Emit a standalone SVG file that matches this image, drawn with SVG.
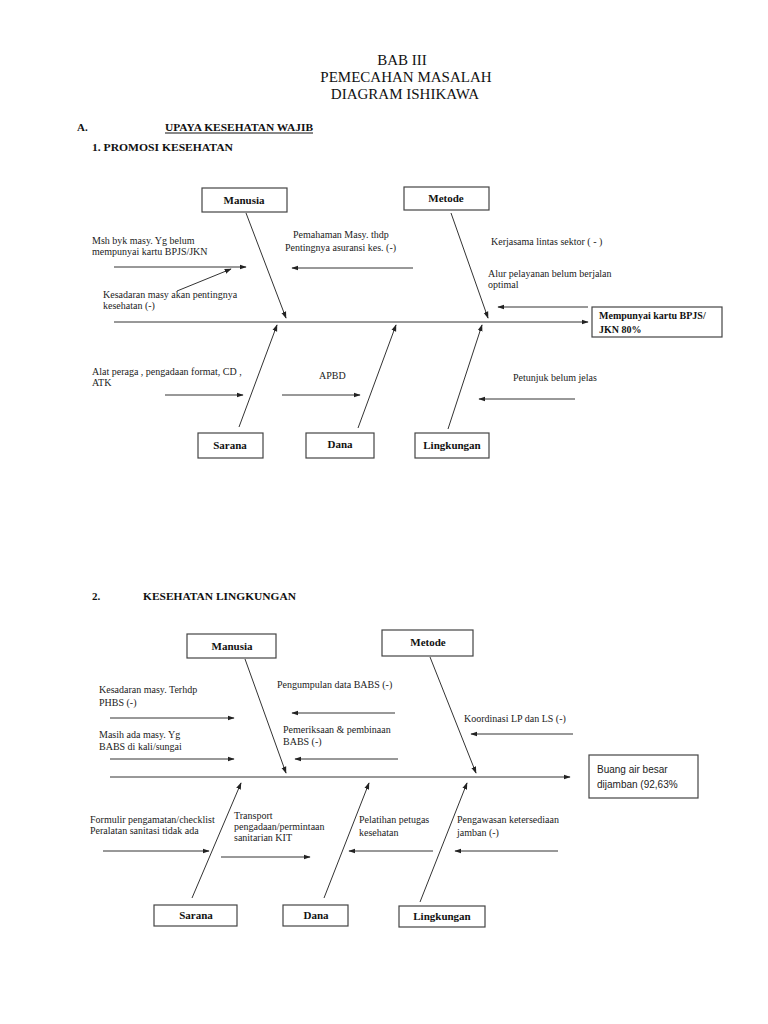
<svg xmlns="http://www.w3.org/2000/svg" width="768" height="1024" viewBox="0 0 768 1024">
<style>
.t{font-family:"Liberation Serif",serif;font-size:10px;fill:#222}
.h{font-family:"Liberation Serif",serif;font-size:15px;fill:#111;text-anchor:middle}
.s{font-family:"Liberation Serif",serif;font-size:11px;font-weight:bold;fill:#111}
.lb{font-family:"Liberation Serif",serif;font-size:11px;font-weight:bold;fill:#111;text-anchor:middle}
.eb{font-family:"Liberation Serif",serif;font-size:10px;font-weight:bold;fill:#111}
.es{font-family:"Liberation Sans",sans-serif;font-size:10px;fill:#222}
.box{fill:#fff;stroke:#444;stroke-width:1.2}
.ln{stroke:#333;stroke-width:1;fill:none}
.ar{stroke:#333;stroke-width:1;fill:none;marker-end:url(#ah)}
</style>
<defs>
<marker id="ah" viewBox="0 0 10 10" refX="9" refY="5" markerWidth="7" markerHeight="7" orient="auto" markerUnits="userSpaceOnUse">
<path d="M0,1.5 L10,5 L0,8.5 z" fill="#222"/>
</marker>
</defs>
<rect width="768" height="1024" fill="#fff"/>

<g id="title">
<text class="h" x="402" y="65">BAB III</text>
<text class="h" x="406" y="82">PEMECAHAN MASALAH</text>
<text class="h" x="405" y="99">DIAGRAM ISHIKAWA</text>
<text class="s" x="77" y="131">A.</text>
<text class="s" x="165" y="131" textLength="148" lengthAdjust="spacingAndGlyphs">UPAYA KESEHATAN WAJIB</text>
<line x1="165" y1="133" x2="313" y2="133" stroke="#111" stroke-width="1"/>
<text class="s" x="92" y="151" textLength="141" lengthAdjust="spacingAndGlyphs">1.  PROMOSI KESEHATAN</text>
<text class="s" x="92" y="600">2.</text>
<text class="s" x="143" y="600" textLength="153" lengthAdjust="spacingAndGlyphs">KESEHATAN LINGKUNGAN</text>
</g>

<!-- Diagram 1 -->
<g id="connectors1">
<line class="ar" x1="114" y1="322" x2="588" y2="322"/>
<line class="ar" x1="246" y1="213" x2="286" y2="318"/>
<line class="ar" x1="451" y1="213" x2="488" y2="318"/>
<line class="ar" x1="239" y1="427" x2="277" y2="325"/>
<line class="ar" x1="358" y1="428" x2="396" y2="325"/>
<line class="ar" x1="448" y1="429" x2="482" y2="325"/>
<line class="ar" x1="114" y1="267" x2="246" y2="267"/>
<line class="ar" x1="177" y1="291" x2="231" y2="269"/>
<line class="ar" x1="413" y1="268" x2="292" y2="268"/>
<line class="ar" x1="588" y1="307" x2="498" y2="307"/>
<line class="ar" x1="165" y1="395" x2="243" y2="395"/>
<line class="ar" x1="282" y1="395" x2="360" y2="395"/>
<line class="ar" x1="575" y1="399" x2="479" y2="399"/>
</g>
<g id="d1-manusia">
<rect class="box" x="202" y="188" width="85" height="24"/>
<text class="lb" x="244" y="204">Manusia</text>
</g>
<g id="d1-metode">
<rect class="box" x="404" y="187" width="85" height="23"/>
<text class="lb" x="446" y="202">Metode</text>
</g>
<g id="d1-sarana">
<rect class="box" x="198" y="433" width="65" height="25"/>
<text class="lb" x="230" y="449">Sarana</text>
</g>
<g id="d1-dana">
<rect class="box" x="306" y="433" width="68" height="25"/>
<text class="lb" x="340" y="448">Dana</text>
</g>
<g id="d1-lingkungan">
<rect class="box" x="415" y="433" width="74" height="25"/>
<text class="lb" x="452" y="449">Lingkungan</text>
</g>
<g id="d1-effect">
<rect class="box" x="592" y="307" width="130" height="30"/>
<text class="eb" x="599" y="319">Mempunyai kartu BPJS/</text>
<text class="eb" x="599" y="333">JKN 80%</text>
</g>
<g id="d1-labels">
<text class="t" x="92" y="244">Msh byk masy. Yg belum</text>
<text class="t" x="92" y="255">mempunyai kartu BPJS/JKN</text>
<text class="t" x="103" y="298">Kesadaran masy akan pentingnya</text>
<text class="t" x="103" y="309">kesehatan (-)</text>
<text class="t" x="293" y="238">Pemahaman Masy. thdp</text>
<text class="t" x="285" y="251">Pentingnya asuransi kes. (-)</text>
<text class="t" x="491" y="245">Kerjasama lintas sektor ( - )</text>
<text class="t" x="488" y="277">Alur pelayanan  belum  berjalan</text>
<text class="t" x="488" y="288">optimal</text>
<text class="t" x="92" y="375">Alat peraga , pengadaan format, CD ,</text>
<text class="t" x="92" y="386">ATK</text>
<text class="t" x="319" y="379">APBD</text>
<text class="t" x="513" y="381">Petunjuk belum jelas</text>
</g>

<!-- Diagram 2 -->
<g id="connectors2">
<line class="ar" x1="110" y1="777" x2="570" y2="777"/>
<line class="ar" x1="245" y1="659" x2="286" y2="773"/>
<line class="ar" x1="430" y1="657" x2="476" y2="773"/>
<line class="ar" x1="192" y1="898" x2="241" y2="783"/>
<line class="ar" x1="324" y1="898" x2="369" y2="783"/>
<line class="ar" x1="420" y1="902" x2="467" y2="783"/>
<line class="ar" x1="110" y1="718" x2="234" y2="718"/>
<line class="ar" x1="110" y1="759" x2="234" y2="759"/>
<line class="ar" x1="395" y1="713" x2="292" y2="713"/>
<line class="ar" x1="398" y1="759" x2="295" y2="759"/>
<line class="ar" x1="573" y1="734" x2="471" y2="734"/>
<line class="ar" x1="103" y1="851" x2="209" y2="851"/>
<line class="ar" x1="221" y1="857" x2="310" y2="857"/>
<line class="ar" x1="433" y1="851" x2="349" y2="851"/>
<line class="ar" x1="558" y1="851" x2="455" y2="851"/>
</g>
<g id="d2-manusia">
<rect class="box" x="187" y="634" width="89" height="24"/>
<text class="lb" x="232" y="650">Manusia</text>
</g>
<g id="d2-metode">
<rect class="box" x="382" y="630" width="91" height="26"/>
<text class="lb" x="428" y="646">Metode</text>
</g>
<g id="d2-sarana">
<rect class="box" x="154" y="905" width="83" height="21"/>
<text class="lb" x="196" y="919">Sarana</text>
</g>
<g id="d2-dana">
<rect class="box" x="283" y="905" width="65" height="21"/>
<text class="lb" x="316" y="919">Dana</text>
</g>
<g id="d2-lingkungan">
<rect class="box" x="399" y="906" width="86" height="21"/>
<text class="lb" x="442" y="920">Lingkungan</text>
</g>
<g id="d2-effect">
<rect class="box" x="589" y="755" width="109" height="43"/>
<text class="es" x="597" y="773">Buang air besar</text>
<text class="es" x="597" y="788">dijamban (92,63%</text>
</g>
<g id="d2-labels">
<text class="t" x="99" y="693">Kesadaran masy. Terhdp</text>
<text class="t" x="99" y="706">PHBS (-)</text>
<text class="t" x="99" y="738">Masih ada masy. Yg</text>
<text class="t" x="99" y="750">BABS di kali/sungai</text>
<text class="t" x="277" y="688">Pengumpulan data BABS (-)</text>
<text class="t" x="283" y="733">Pemeriksaan &amp; pembinaan</text>
<text class="t" x="283" y="745">BABS (-)</text>
<text class="t" x="464" y="722">Koordinasi LP dan LS (-)</text>
<text class="t" x="90" y="823">Formulir pengamatan/checklist</text>
<text class="t" x="90" y="834">Peralatan sanitasi tidak ada</text>
<text class="t" x="234" y="819">Transport</text>
<text class="t" x="234" y="830">pengadaan/permintaan</text>
<text class="t" x="234" y="841">sanitarian KIT</text>
<text class="t" x="359" y="823">Pelatihan petugas</text>
<text class="t" x="359" y="836">kesehatan</text>
<text class="t" x="457" y="823">Pengawasan ketersediaan</text>
<text class="t" x="457" y="836">jamban (-)</text>
</g>
</svg>
